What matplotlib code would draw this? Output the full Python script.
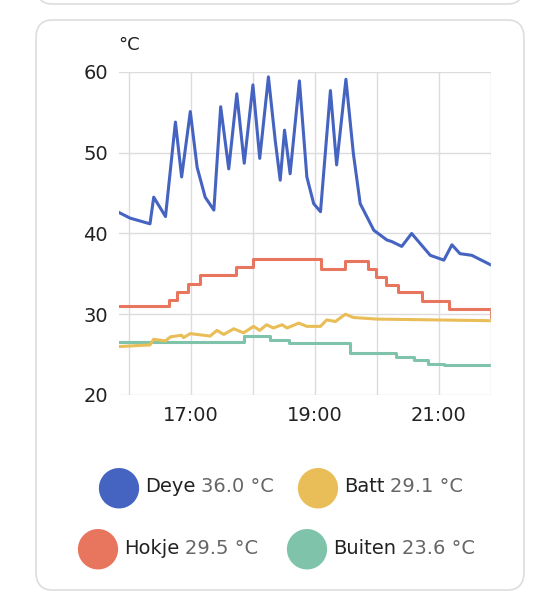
import matplotlib.pyplot as plt
from matplotlib.patches import FancyBboxPatch

# times in decimal hours
deye_t = [15.84, 16.02, 16.34, 16.40, 16.59, 16.75, 16.85, 16.99, 17.10, 17.23, 17.37, 17.48, 17.61,
          17.74, 17.86, 18.00, 18.11, 18.25, 18.36, 18.44, 18.51, 18.60, 18.75, 18.87, 18.98, 19.09,
          19.25, 19.35, 19.50, 19.62, 19.73, 19.95, 20.16, 20.24, 20.40, 20.56, 20.86, 21.08, 21.21,
          21.34, 21.53, 21.84]
deye_v = [42.6, 41.9, 41.2, 44.5, 42.1, 53.8, 47.0, 55.1, 48.2, 44.5, 42.9, 55.7, 48.0,
          57.3, 48.7, 58.4, 49.3, 59.4, 51.5, 46.6, 52.8, 47.4, 58.9, 47.0, 43.7, 42.7,
          57.7, 48.5, 59.1, 49.9, 43.7, 40.4, 39.2, 39.0, 38.4, 40.0, 37.3, 36.7, 38.6,
          37.5, 37.3, 36.1]

hokje_t = [15.84, 16.65, 16.78, 16.95, 17.14, 17.73, 18.00, 19.09, 19.49, 19.85, 19.99, 20.15, 20.34,
           20.73, 21.16, 21.84]
hokje_v = [31.05, 31.8, 32.8, 33.8, 34.8, 35.8, 36.8, 35.6, 36.6, 35.6, 34.6, 33.6, 32.7,
           31.7, 30.6, 29.6]

buiten_t = [15.84, 17.85, 18.28, 18.58, 19.56, 20.31, 20.59, 20.83, 21.08, 21.84]
buiten_v = [26.6, 27.3, 26.8, 26.4, 25.2, 24.7, 24.3, 23.9, 23.7, 23.7]

batt_t = [15.84, 16.34, 16.40, 16.59, 16.67, 16.85, 16.88, 16.99, 17.31, 17.42, 17.53, 17.69, 17.85,
          18.01, 18.11, 18.22, 18.33, 18.47, 18.55, 18.74, 18.87, 19.09, 19.19, 19.33, 19.49, 19.62,
          20.00, 21.84]
batt_v = [26.0, 26.2, 26.9, 26.7, 27.2, 27.4, 27.1, 27.6, 27.3, 28.0, 27.5, 28.2, 27.7,
          28.5, 28.0, 28.7, 28.3, 28.7, 28.3, 28.9, 28.5, 28.5, 29.3, 29.1, 30.0, 29.6,
          29.4, 29.2]

names = ["Deye", "Batt", "Hokje", "Buiten"]
current = ["36.0 °C", "29.1 °C", "29.5 °C", "23.6 °C"]
colors = ["#4563c0", "#e9bd58", "#e8765e", "#7fc4aa"]

fig = plt.figure(figsize=(5.45, 6.07), dpi=100)
fig.patch.set_facecolor("white")
card = FancyBboxPatch((36 / 545, 1 - 590 / 607), 488 / 545, 570 / 607,
                      boxstyle="round,pad=0,rounding_size=0.03", transform=fig.transFigure,
                      facecolor="white", edgecolor="#dddddd", linewidth=1.2, zorder=-10)
fig.patches.append(card)
top = FancyBboxPatch((36 / 545, 1 - 4 / 607), 488 / 545, 0.05,
                     boxstyle="round,pad=0,rounding_size=0.03", transform=fig.transFigure,
                     facecolor="white", edgecolor="#dddddd", linewidth=1.2, zorder=-10)
fig.patches.append(top)

ax = fig.add_axes([119 / 545, 1 - 395 / 607, 372 / 545, 323 / 607])
ax.patch.set_alpha(0)
ax.plot(deye_t, deye_v, color=colors[0], lw=2.2)
ax.step(hokje_t, hokje_v, where="post", color=colors[2], lw=2.2)
ax.step(buiten_t, buiten_v, where="post", color=colors[3], lw=2.2)
ax.plot(batt_t, batt_v, color=colors[1], lw=2.2)
ax.set_xlim(15.84, 21.84)
ax.set_ylim(20, 60)
ax.set_yticks([20, 30, 40, 50, 60])
ax.set_xticks([17, 19, 21])
ax.set_xticks([16, 18, 20], minor=True)
ax.set_xticklabels(["17:00", "19:00", "21:00"])
ax.grid(True, which="both", color="#dcdcdc", lw=1)
ax.tick_params(which="both", length=0, labelsize=14, pad=8, colors="#222222")
for s in ax.spines.values():
    s.set_visible(False)
ax.axvline(21.84, color="#dcdcdc", lw=1)
ax.set_axisbelow(True)
fig.text(118 / 545, 1 - 45 / 607, "°C", fontsize=13, color="#222222", va="center")

pos = [(118, 487), (317, 487), (97, 548), (306, 548)]
fig.canvas.draw()
r = fig.canvas.get_renderer()
for (x, y), n, c, col in zip(pos, names, current, colors):
    fig.text(x / 545, 1 - y / 607, "●", color=col, fontsize=38, ha="center", va="center")
    t = fig.text((x + 27) / 545, 1 - y / 607, n, fontsize=14, color="#222222", va="center")
    w = t.get_window_extent(r).width
    fig.text((x + 27 + w + 6) / 545, 1 - y / 607, c, fontsize=14, color="#666666", va="center")

fig.savefig("out.png", dpi=100)
